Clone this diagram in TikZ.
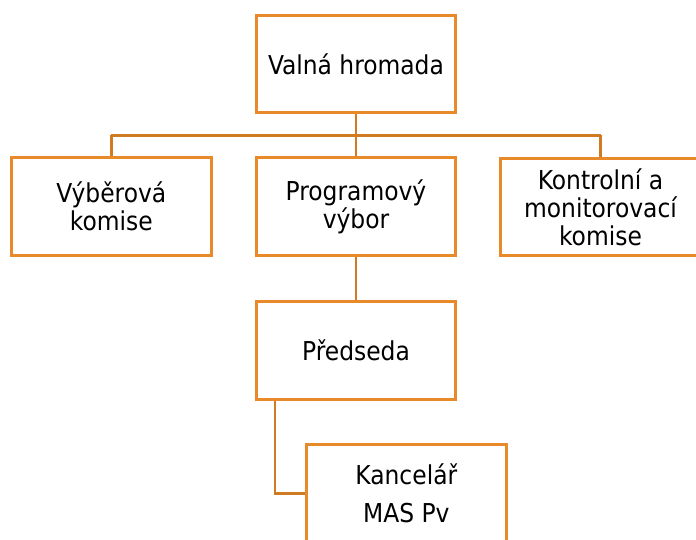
\documentclass[tikz,border=0pt]{standalone}
\usepackage{fontspec}
\setmainfont{DejaVu Sans Condensed}
\definecolor{boxorange}{HTML}{E8892A}
\definecolor{lineorange}{HTML}{D07A22}
\begin{document}
\begin{tikzpicture}[x=1pt,y=-1pt,
  box/.style={draw=boxorange, line width=3pt, fill=white, minimum width=199.5pt, minimum height=97.5pt, inner sep=0pt, align=center, font=\fontsize{26}{28}\selectfont},
  conn/.style={draw=lineorange, line width=2.6pt}]
\useasboundingbox (0,0) rectangle (696,540);
\clip (0,0) rectangle (696,540);
\node[box] (valna) at (356,64) {Valná hromada};
\node[box] (vyber) at (111.3,206.7) {Výběrová\\komise};
\node[box] (prog) at (356,206.5) {Programový\\výbor};
\node[box] (kontr) at (600.5,207) {Kontrolní a\\monitorovací\\komise};
\node[box] (pred) at (356,350.3) {Předseda};
\node[box, font=\fontsize{26}{38}\selectfont] (kanc) at (406.3,493.5) {Kancelář\\MAS Pv};
\coordinate (bus) at (356,135.5);
\coordinate (busL) at (111.3,135.5);
\coordinate (busR) at (600.5,135.5);
\coordinate (predout) at (275,400);
\coordinate (bend) at (275,493.5);
\draw[conn] (valna.south) -- (bus);
\draw[conn] (busL) -- (busR);
\draw[conn] (busL) -- (vyber.north);
\draw[conn] (bus) -- (prog.north);
\draw[conn] (busR) -- (kontr.north);
\draw[conn] (prog.south) -- (pred.north);
\draw[conn] (pred.south -| predout) -- (bend) -- (kanc.west);
\end{tikzpicture}
\end{document}
